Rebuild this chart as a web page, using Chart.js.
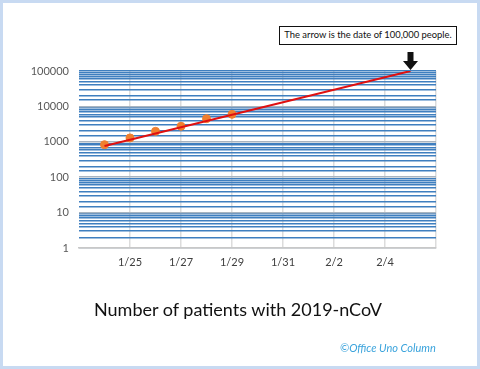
<!DOCTYPE html>
<html>
<head>
<meta charset="utf-8">
<script src="https://cdn.jsdelivr.net/npm/chart.js@4"></script>
<style>
  body { margin: 0; background: #fff; }
  #wrap { position: relative; width: 480px; height: 369px; overflow: hidden; }
  #frame { position: absolute; left: 0; top: 0; width: 480px; height: 369px; box-sizing: border-box; border: 3px solid #c8daf2; }
  #chartBox { position: absolute; left: 0; top: 0; width: 480px; height: 369px; }
  #note { position: absolute; left: 279px; top: 26px; width: 178px; height: 19px; box-sizing: border-box; white-space: nowrap;
          border: 1.5px solid #111; font: 9.4px Lato, sans-serif; color: #111; text-align: center; line-height: 16px; background: #fff; }
  #title { position: absolute; left: 0; width: 476px; top: 298px; text-align: center; font: 18px Lato, sans-serif; color: #111; }
  #credit { position: absolute; left: 340px; top: 341px; font: italic 11px Lato, sans-serif; color: #3aa3dc; }
</style>
</head>
<body>
<div id="wrap">
  <div id="chartBox"><canvas id="myChart"></canvas></div>
  <div id="note">The arrow is the date of 100,000 people.</div>
  <div id="title">Number of patients with 2019-nCoV</div>
  <div id="credit">©Office Uno Column</div>
  <div id="frame"></div>
</div>
<script>
// 日付（カテゴリ）
const dates = ["1/23", "1/24", "1/25", "1/26", "1/27", "1/28", "1/29", "1/30",
               "1/31", "2/1", "2/2", "2/3", "2/4", "2/5", "2/6"];

// 患者数（実測）
const patients = [null, 830, 1287, 1975, 2744, 4515, 5974, null,
                  null, null, null, null, null, null, null];

// 近似線（両端のみ）
const trend = [null, 760, null, null, null, null, null, null,
               null, null, null, null, null, 100000, null];

// 縦軸の目盛ラベル
const yLabels = [1, 10, 100, 1000, 10000, 100000];

// 矢印の位置
const arrowDate = "2/5";
const arrowValue = 100000;

// 矢印を描くプラグイン
const arrowPlugin = {
  id: "arrow",
  afterDatasetsDraw(chart) {
    const c = chart.ctx;
    const x = chart.scales.x.getPixelForValue(dates.indexOf(arrowDate));
    const y = chart.scales.y.getPixelForValue(arrowValue) - 1;
    c.save();
    c.fillStyle = "#111";
    c.beginPath();
    c.moveTo(x - 3, y - 18);
    c.lineTo(x + 3, y - 18);
    c.lineTo(x + 3, y - 9);
    c.lineTo(x + 7.5, y - 9);
    c.lineTo(x, y);
    c.lineTo(x - 7.5, y - 9);
    c.lineTo(x - 3, y - 9);
    c.closePath();
    c.fill();
    c.restore();
  }
};

const config = {
  type: "line",
  data: {
    labels: dates,
    datasets: [{
      label: "trend",
      data: trend,
      spanGaps: true,
      borderColor: "#e01010",
      borderWidth: 2,
      pointRadius: 0,
      order: 1
    }, {
      label: "patients",
      data: patients,
      showLine: false,
      pointRadius: 4,
      pointBackgroundColor: "#f07f2e",
      pointBorderColor: "#f07f2e",
      order: 2
    }]
  },
  options: {
    responsive: true,
    maintainAspectRatio: false,
    animation: false,
    layout: { padding: { left: 0, top: 71, right: 44, bottom: 91 } },
    plugins: {
      legend: { display: false },
      tooltip: { enabled: false }
    },
    scales: {
      x: {
        type: "category",
        offset: false,
        afterFit: (s) => { s.height = 30; },
        border: { display: true, color: "#c8c8c8", width: 1.5 },
        grid: {
          drawTicks: false,
          lineWidth: 1.5,
          color: (ctx) => (ctx.index > 0 && ctx.index % 2 === 0) ? "#dcdcdc" : "rgba(0,0,0,0)"
        },
        ticks: {
          autoSkip: false,
          maxRotation: 0,
          padding: 8,
          color: "#404040",
          font: { family: "Lato", size: 11 },
          callback: (v, i) => (i > 0 && i < dates.length - 1 && i % 2 === 0) ? dates[i] : ""
        }
      },
      y: {
        type: "logarithmic",
        min: 1,
        max: 100000,
        afterFit: (s) => { s.width = 79; },
        border: { display: false },
        grid: {
          drawTicks: false,
          lineWidth: 1.5,
          color: (ctx) => yLabels.includes(ctx.tick.value) && ctx.tick.value !== 100000 ? "#a8b4c0" : "#3f7fbf"
        },
        ticks: {
          autoSkip: false,
          padding: 10,
          color: "#595959",
          font: { family: "Lato", size: 11 },
          callback: (v) => yLabels.includes(v) ? String(v) : ""
        }
      }
    }
  },
  plugins: [arrowPlugin]
};

const ctx = document.getElementById("myChart");
const myChart = new Chart(ctx, config);
</script>
</body>
</html>
